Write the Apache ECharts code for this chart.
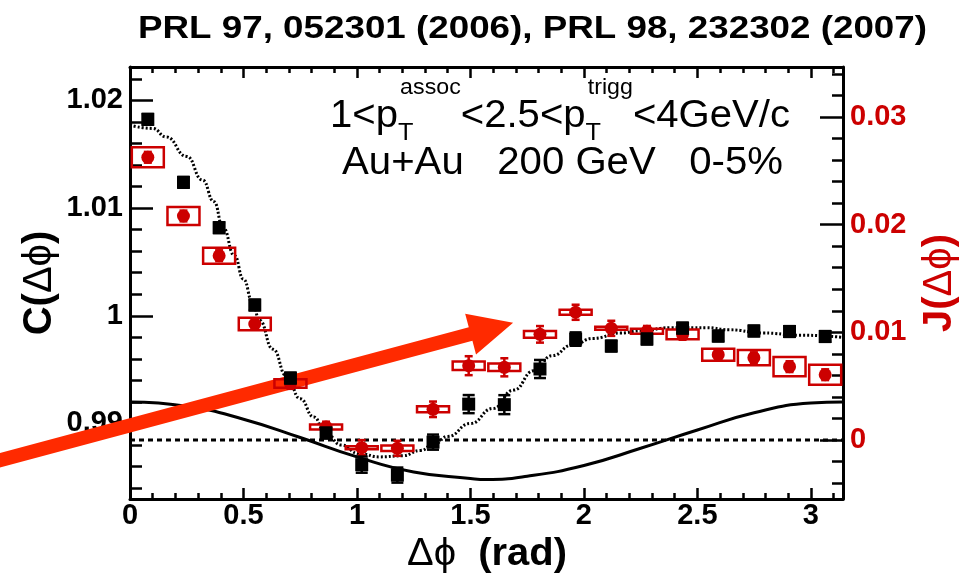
<!DOCTYPE html>
<html>
<head>
<meta charset="utf-8">
<script src="https://cdn.jsdelivr.net/npm/echarts@6/dist/echarts.min.js"></script>
<style>
  html, body { margin: 0; padding: 0; background: #fff; }
  #chart { width: 971px; height: 579px; }
</style>
</head>
<body>
<div id="chart"></div>
<script>
// Δϕ bin centres (rad)
const phi = [0.0785, 0.2356, 0.3927, 0.5498, 0.7069, 0.8639, 1.0210, 1.1781, 1.3352, 1.4923,
             1.6493, 1.8064, 1.9635, 2.1206, 2.2777, 2.4347, 2.5918, 2.7489, 2.9060, 3.0631];

// Correlation function C(Δϕ) and its statistical errors
const cValues = [1.01824, 1.01239, 1.00818, 1.00100, 0.99422, 0.98911, 0.98618, 0.98521, 0.98827, 0.99180,
                 0.99175, 0.99506, 0.99784, 0.99719, 0.99784, 0.99886, 0.99812, 0.99859, 0.99854, 0.99808];
const cErrors = [0.0005, 0.0005, 0.0005, 0.0005, 0.0005, 0.0005, 0.00075, 0.0007, 0.0007, 0.00084,
                 0.00088, 0.00084, 0.00062, 0.0005, 0.0005, 0.0005, 0.0005, 0.0005, 0.0005, 0.0005];

// Jet-like yield J(Δϕ), statistical and systematic errors
const jValues = [0.02625, 0.02080, 0.01711, 0.01077, 0.00525, 0.00120, -0.00071, -0.00077, 0.00285, 0.00690,
                 0.00675, 0.00981, 0.01186, 0.01037, 0.01009, 0.00981, 0.00792, 0.00764, 0.00681, 0.00606];
const jStatErrors = [0.0005, 0.0005, 0.0005, 0.0005, 0.0005, 0.0005, 0.0007, 0.0007, 0.00072, 0.00088,
                     0.00084, 0.00077, 0.0007, 0.0007, 0.0005, 0.0005, 0.0005, 0.0005, 0.0005, 0.0005];
const jSysErrors = [0.00093, 0.00084, 0.00074, 0.00059, 0.00039, 0.00023, 0.00014, 0.00025, 0.00028, 0.00039,
                    0.00035, 0.00031, 0.00023, 0.00014, 0.00023, 0.00045, 0.00056, 0.00071, 0.00090, 0.00093];

// Fit to C(Δϕ) (dotted)
const fitPhi = [0.00, 0.10, 0.16, 0.25, 0.32, 0.37, 0.41, 0.46, 0.50, 0.54, 0.57, 0.63, 0.69, 0.75, 0.81,
                0.86, 0.93, 1.01, 1.10, 1.20, 1.28, 1.34, 1.40, 1.50, 1.60, 1.69, 1.78, 1.86, 1.95, 2.04,
                2.16, 2.25, 2.38, 2.54, 2.64, 2.79, 2.95, 3.1416];
const fitC = [1.0177, 1.0174, 1.0166, 1.0148, 1.0126, 1.0106, 1.0082, 1.0056, 1.0034, 1.0013, 0.9996,
              0.9969, 0.9944, 0.9923, 0.9906, 0.9892, 0.9880, 0.9872, 0.9869, 0.9870, 0.9875, 0.9881,
              0.9888, 0.9900, 0.9914, 0.9931, 0.9949, 0.9963, 0.9973, 0.9979, 0.9984, 0.9986, 0.9989,
              0.9989, 0.9987, 0.9984, 0.9982, 0.9980];

// Flow-modulated background (solid)
const bgPhi = [0, 0.25, 0.5, 0.75, 1.0, 1.25, 1.5, 1.57, 1.75, 2.0, 2.25, 2.5, 2.75, 3.0, 3.1416];
const bgC = [0.9920, 0.9916, 0.9904, 0.9887, 0.9869, 0.9855, 0.9849, 0.9848, 0.9851, 0.9861, 0.9877,
             0.9894, 0.9910, 0.9919, 0.9920];

// J = 0 reference line
const zeroPhi = [0, 3.1416];
const zeroJ = [0, 0];

// Tick values and labels
const xMajorTicks = [0, 0.5, 1, 1.5, 2, 2.5, 3];
const leftMajorTicks = [0.99, 1.0, 1.01, 1.02];
const rightMajorTicks = [0, 0.01, 0.02, 0.03];
const xMinorTicks = [];
for (let i = 1; i <= 31; i++) if (i % 5) xMinorTicks.push(i / 10);
const leftMinorTicks = [];
for (let i = 492; i <= 511; i++) if (i % 5) leftMinorTicks.push(i / 500);
const rightMinorTicks = [];
for (let i = -2; i <= 17; i++) if (i % 5) rightMinorTicks.push(i / 500);

// Arrow annotation, in (Δϕ, J) coordinates
const arrowTail = [-0.62, -0.00214];
const arrowTip = [1.688, 0.01089];

const FONT = "'Liberation Sans', Arial, Helvetica, sans-serif";
const RED = '#cc0000';
const ARROW = '#ff2a00';
const X_MIN = 0, X_MAX = Math.PI;
const L_MIN = 0.98299, L_MAX = 1.0231;
const R_MIN = -0.005478, R_MAX = 0.034633;
const sysHalfWidth = 0.0705;

const chart = echarts.init(document.getElementById('chart'), null, { renderer: 'canvas' });

function xAxisDef(position, ticks, len, withLabels, withLine) {
  return {
    type: 'value', position, min: X_MIN, max: X_MAX,
    axisLine: { show: withLine, onZero: false, lineStyle: { color: '#000', width: 3 } },
    axisTick: { show: true, inside: true, length: len, customValues: ticks,
                lineStyle: { color: '#000', width: 2.5 } },
    axisLabel: withLabels
      ? { show: true, customValues: ticks, margin: 2, color: '#000', fontSize: 29,
          fontWeight: 'bold', fontFamily: FONT }
      : { show: false },
    splitLine: { show: false }
  };
}
function yAxisDef(position, min, max, ticks, len, withLabels, withLine, color) {
  return {
    type: 'value', position, min, max,
    axisLine: { show: withLine, onZero: false, lineStyle: { color: '#000', width: 3 } },
    axisTick: { show: true, inside: true, length: len, customValues: ticks,
                lineStyle: { color: '#000', width: 2.5 } },
    axisLabel: withLabels
      ? { show: true, customValues: ticks, margin: 7, color, fontSize: 29,
          fontWeight: 'bold', fontFamily: FONT }
      : { show: false },
    splitLine: { show: false }
  };
}

function errorBar(stroke, capHalf) {
  return function (params, api) {
    const x = api.value(0), y = api.value(1), e = api.value(2);
    const top = api.coord([x, y + e]);
    const bot = api.coord([x, y - e]);
    const style = { stroke, lineWidth: 2.5 };
    return {
      type: 'group',
      children: [
        { type: 'line', shape: { x1: top[0], y1: top[1], x2: bot[0], y2: bot[1] }, style },
        { type: 'line', shape: { x1: top[0] - capHalf, y1: top[1], x2: top[0] + capHalf, y2: top[1] }, style },
        { type: 'line', shape: { x1: bot[0] - capHalf, y1: bot[1], x2: bot[0] + capHalf, y2: bot[1] }, style }
      ]
    };
  };
}

const option = {
  animation: false,
  backgroundColor: '#fff',
  grid: { left: 130, right: 128, top: 67, bottom: 80 },
  xAxis: [
    xAxisDef('bottom', xMajorTicks, 11, true, true),
    xAxisDef('bottom', xMinorTicks, 6, false, false),
    xAxisDef('top', xMajorTicks, 11, false, true),
    xAxisDef('top', xMinorTicks, 6, false, false)
  ],
  yAxis: [
    yAxisDef('left', L_MIN, L_MAX, leftMajorTicks, 23, true, true, '#000'),
    yAxisDef('left', L_MIN, L_MAX, leftMinorTicks, 12, false, false, '#000'),
    yAxisDef('right', R_MIN, R_MAX, rightMajorTicks, 23, true, true, RED),
    yAxisDef('right', R_MIN, R_MAX, rightMinorTicks, 11, false, false, RED)
  ],
  series: [
    {
      name: 'background', type: 'line', xAxisIndex: 0, yAxisIndex: 0, z: 1,
      data: bgPhi.map((x, i) => [x, bgC[i]]), showSymbol: false, smooth: true,
      lineStyle: { color: '#000', width: 3 }
    },
    {
      name: 'zero', type: 'line', xAxisIndex: 0, yAxisIndex: 2, z: 1,
      data: zeroPhi.map((x, i) => [x, zeroJ[i]]), showSymbol: false,
      lineStyle: { color: '#000', width: 3, type: [5, 4] }
    },
    {
      name: 'fit', type: 'line', xAxisIndex: 0, yAxisIndex: 0, z: 1,
      data: fitPhi.map((x, i) => [x, fitC[i]]), showSymbol: false, smooth: true, smoothMonotone: 'x',
      lineStyle: { color: '#000', width: 3, type: [2, 2] }
    },
    {
      name: 'J sys', type: 'custom', xAxisIndex: 0, yAxisIndex: 2, z: 3,
      data: phi.map((x, i) => [x, jValues[i], jSysErrors[i]]),
      renderItem(params, api) {
        const x = api.value(0), y = api.value(1), e = api.value(2);
        const p1 = api.coord([x - sysHalfWidth, y + e]);
        const p2 = api.coord([x + sysHalfWidth, y - e]);
        return {
          type: 'rect',
          shape: { x: p1[0], y: p1[1], width: p2[0] - p1[0], height: p2[1] - p1[1] },
          style: { fill: 'none', stroke: RED, lineWidth: 2.5 }
        };
      }
    },
    {
      name: 'J stat', type: 'custom', xAxisIndex: 0, yAxisIndex: 2, z: 3,
      data: phi.map((x, i) => [x, jValues[i], jStatErrors[i]]),
      renderItem: errorBar(RED, 4)
    },
    {
      name: 'J', type: 'scatter', xAxisIndex: 0, yAxisIndex: 2, z: 4,
      data: phi.map((x, i) => [x, jValues[i]]),
      symbol: 'circle', symbolSize: 13, itemStyle: { color: RED, opacity: 1 }
    },
    {
      name: 'C stat', type: 'custom', xAxisIndex: 0, yAxisIndex: 0, z: 5,
      data: phi.map((x, i) => [x, cValues[i], cErrors[i]]),
      renderItem: errorBar('#000', 6)
    },
    {
      name: 'C', type: 'scatter', xAxisIndex: 0, yAxisIndex: 0, z: 6,
      data: phi.map((x, i) => [x, cValues[i]]),
      symbol: 'rect', symbolSize: 13, itemStyle: { color: '#000', opacity: 1 }
    }
  ]
};
chart.setOption(option);

// ---- text and annotation layer ----
const measureCtx = document.createElement('canvas').getContext('2d');
function textWidth(text, size, weight) {
  measureCtx.font = `${weight} ${size}px ${FONT}`;
  return measureCtx.measureText(text).width;
}
function plainText(text, x, y, size, weight, color, align, extra) {
  return Object.assign({
    type: 'text', x, y, z: 10,
    style: { text, fontSize: size, fontWeight: weight, fontFamily: FONT, fill: color,
             align: align || 'left', verticalAlign: 'middle' }
  }, extra || {});
}

const graphics = [];

// Title
const titleText = 'PRL 97, 052301 (2006), PRL 98, 232302 (2007)';
const titleSize = 31.7;
graphics.push(plainText(titleText, 532.5, 29, titleSize, 'bold', '#000', 'center',
  { scaleX: 789 / textWidth(titleText, titleSize, 'bold') }));

// Kinematic selection line with sub/superscripts
(function () {
  const main = 38, sup = 22, sub = 24;
  const pieces = [];
  let cx = 0;
  function addMain(t) {
    pieces.push(plainText(t, cx, 0, main, 'normal', '#000'));
    cx += textWidth(t, main, 'normal');
  }
  function addScripts(up, down) {
    pieces.push(plainText(up, cx + 2, -29, sup, 'normal', '#000'));
    pieces.push(plainText(down, cx, 17, sub, 'normal', '#000'));
    cx += Math.max(textWidth(up, sup, 'normal'), textWidth(down, sub, 'normal')) + 2;
  }
  addMain('1<p');
  addScripts('assoc', 'T');
  addMain('<2.5<p');
  addScripts('trigg', 'T');
  addMain('<4GeV/c');
  graphics.push({ type: 'group', x: 330, y: 116.8, scaleX: 460 / cx, children: pieces });
})();

const line2 = 'Au+Au   200 GeV   0-5%';
graphics.push(plainText(line2, 342, 163.5, 38, 'normal', '#000', 'left',
  { scaleX: 441 / textWidth(line2, 38, 'normal') }));

// Axis titles
function richTitle(letter, x, y, color, size) {
  return {
    type: 'text', x, y, rotation: Math.PI / 2, z: 10,
    style: {
      text: '{b|' + letter + '(}{s|Δϕ}{b|)}', fill: color, align: 'center', verticalAlign: 'middle',
      rich: {
        b: { fontSize: size, fontWeight: 'bold', fontFamily: FONT, fill: color },
        s: { fontSize: size, fontWeight: 'normal', fontFamily: FONT, fill: color }
      }
    }
  };
}
graphics.push(richTitle('C', 40, 283, '#000', 40));
graphics.push(richTitle('J', 940, 283, RED, 40));

(function () {
  const size = 38;
  const w = textWidth('Δϕ', size, 'normal') + textWidth('  (rad)', size, 'bold');
  graphics.push({
    type: 'text', x: 407, y: 554.8, z: 10, scaleX: 160 / w,
    style: {
      text: '{s|Δϕ}{b|  (rad)}', align: 'left', verticalAlign: 'middle',
      rich: {
        b: { fontSize: size, fontWeight: 'bold', fontFamily: FONT, fill: '#000' },
        s: { fontSize: size, fontWeight: 'normal', fontFamily: FONT, fill: '#000' }
      }
    }
  });
})();

// Arrow
(function () {
  const a = chart.convertToPixel({ xAxisIndex: 0, yAxisIndex: 2 }, arrowTail);
  const b = chart.convertToPixel({ xAxisIndex: 0, yAxisIndex: 2 }, arrowTip);
  const dx = b[0] - a[0], dy = b[1] - a[1];
  const len = Math.hypot(dx, dy);
  const ux = dx / len, uy = dy / len;
  const nx = -uy, ny = ux;
  const shaft = 7, headLen = 44, headHalf = 21;
  const bx = b[0] - ux * headLen, by = b[1] - uy * headLen;
  graphics.push({
    type: 'polygon', z: 1.5,
    shape: { points: [
      [a[0] + nx * shaft, a[1] + ny * shaft],
      [bx + nx * shaft, by + ny * shaft],
      [bx + nx * headHalf, by + ny * headHalf],
      [b[0], b[1]],
      [bx - nx * headHalf, by - ny * headHalf],
      [bx - nx * shaft, by - ny * shaft],
      [a[0] - nx * shaft, a[1] - ny * shaft]
    ] },
    style: { fill: ARROW }
  });
})();

chart.setOption({ graphic: graphics });
</script>
</body>
</html>
